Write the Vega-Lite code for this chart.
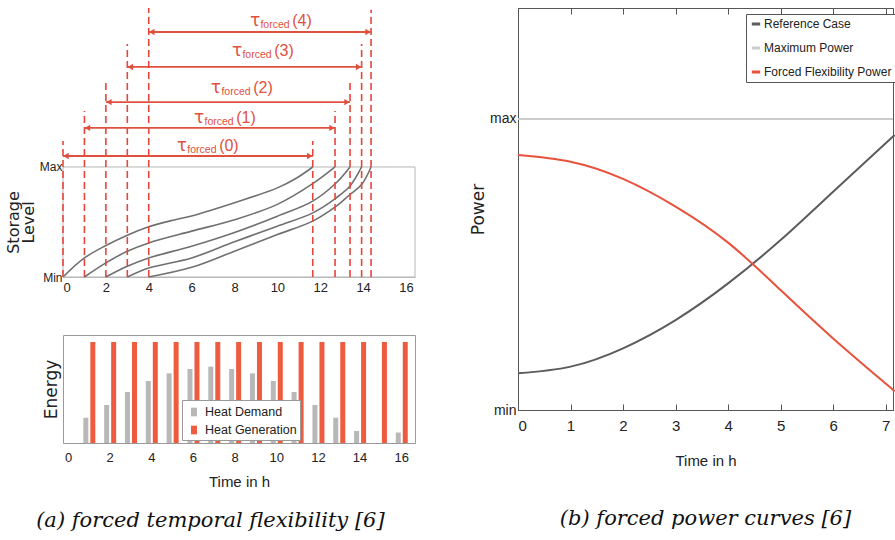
{
  "$schema": "https://vega.github.io/schema/vega-lite/v6.json",
  "background": "white",
  "padding": {"left": 5, "top": 7, "right": 0, "bottom": 0},
  "config": {
    "font": "Liberation Sans, sans-serif",
    "view": {"stroke": null},
    "axis": {
      "grid": false,
      "labelFont": "Liberation Sans, sans-serif",
      "titleFont": "Liberation Sans, sans-serif",
      "labelColor": "#222",
      "titleColor": "#222",
      "titleFontWeight": "normal",
      "domainColor": "#aaa",
      "tickColor": "#555"
    },
    "legend": {
      "labelFont": "Liberation Sans, sans-serif",
      "labelColor": "#222",
      "labelLimit": 400
    }
  },
  "datasets": {
    "frame": [{"name": "frame"}],
    "curves": [
      {"curve": "0", "t": 0, "level": 0}, {"curve": "0", "t": 1, "level": 0.173}, {"curve": "0", "t": 2, "level": 0.286}, {"curve": "0", "t": 3, "level": 0.38}, {"curve": "0", "t": 4, "level": 0.456}, {"curve": "0", "t": 5, "level": 0.51}, {"curve": "0", "t": 6, "level": 0.555}, {"curve": "0", "t": 8, "level": 0.675}, {"curve": "0", "t": 10, "level": 0.81}, {"curve": "0", "t": 10.9, "level": 0.9}, {"curve": "0", "t": 11.65, "level": 1},
      {"curve": "1", "t": 1, "level": 0}, {"curve": "1", "t": 2, "level": 0.128}, {"curve": "1", "t": 3, "level": 0.234}, {"curve": "1", "t": 4, "level": 0.31}, {"curve": "1", "t": 6, "level": 0.417}, {"curve": "1", "t": 8, "level": 0.52}, {"curve": "1", "t": 10, "level": 0.66}, {"curve": "1", "t": 11.65, "level": 0.848}, {"curve": "1", "t": 12.69, "level": 1},
      {"curve": "2", "t": 2, "level": 0}, {"curve": "2", "t": 3, "level": 0.097}, {"curve": "2", "t": 4, "level": 0.173}, {"curve": "2", "t": 6, "level": 0.28}, {"curve": "2", "t": 8, "level": 0.405}, {"curve": "2", "t": 10, "level": 0.553}, {"curve": "2", "t": 11.65, "level": 0.69}, {"curve": "2", "t": 12.75, "level": 0.857}, {"curve": "2", "t": 13.39, "level": 1},
      {"curve": "3", "t": 3, "level": 0}, {"curve": "3", "t": 4, "level": 0.082}, {"curve": "3", "t": 6, "level": 0.173}, {"curve": "3", "t": 8, "level": 0.32}, {"curve": "3", "t": 10, "level": 0.462}, {"curve": "3", "t": 11.65, "level": 0.583}, {"curve": "3", "t": 12.75, "level": 0.72}, {"curve": "3", "t": 13.39, "level": 0.827}, {"curve": "3", "t": 13.93, "level": 1},
      {"curve": "4", "t": 4, "level": 0}, {"curve": "4", "t": 6, "level": 0.088}, {"curve": "4", "t": 8, "level": 0.235}, {"curve": "4", "t": 10, "level": 0.386}, {"curve": "4", "t": 11.65, "level": 0.508}, {"curve": "4", "t": 12.75, "level": 0.644}, {"curve": "4", "t": 13.39, "level": 0.75}, {"curve": "4", "t": 13.93, "level": 0.84}, {"curve": "4", "t": 14.37, "level": 1}
    ],
    "dashes": [
      {"t": 0, "bottom": 0, "top": 1.236}, {"t": 1, "bottom": 0, "top": 1.509}, {"t": 2, "bottom": 0, "top": 1.8}, {"t": 3, "bottom": 0, "top": 2.118}, {"t": 4, "bottom": 0, "top": 2.445},
      {"t": 11.65, "bottom": 0, "top": 1.236}, {"t": 12.69, "bottom": 0, "top": 1.509}, {"t": 13.39, "bottom": 0, "top": 1.8}, {"t": 13.93, "bottom": 0, "top": 2.118}, {"t": 14.37, "bottom": 0, "top": 2.43}
    ],
    "spans": [
      {"k": "(0)", "start": 0, "end": 11.65, "arrow": 1.1, "labelT": 6.48, "labelY": 1.19},
      {"k": "(1)", "start": 1, "end": 12.69, "arrow": 1.355, "labelT": 7.28, "labelY": 1.445},
      {"k": "(2)", "start": 2, "end": 13.39, "arrow": 1.59, "labelT": 8.07, "labelY": 1.718},
      {"k": "(3)", "start": 3, "end": 13.93, "arrow": 1.909, "labelT": 9.05, "labelY": 2.055},
      {"k": "(4)", "start": 4, "end": 14.37, "arrow": 2.227, "labelT": 9.89, "labelY": 2.327}
    ],
    "energy": [
      {"t": 1, "series": "Heat Demand", "energy": 0.234}, {"t": 2, "series": "Heat Demand", "energy": 0.352}, {"t": 3, "series": "Heat Demand", "energy": 0.472}, {"t": 4, "series": "Heat Demand", "energy": 0.574}, {"t": 5, "series": "Heat Demand", "energy": 0.645}, {"t": 6, "series": "Heat Demand", "energy": 0.685}, {"t": 7, "series": "Heat Demand", "energy": 0.707}, {"t": 8, "series": "Heat Demand", "energy": 0.685}, {"t": 9, "series": "Heat Demand", "energy": 0.645}, {"t": 10, "series": "Heat Demand", "energy": 0.574}, {"t": 11, "series": "Heat Demand", "energy": 0.472}, {"t": 12, "series": "Heat Demand", "energy": 0.352}, {"t": 13, "series": "Heat Demand", "energy": 0.234}, {"t": 14, "series": "Heat Demand", "energy": 0.111}, {"t": 16, "series": "Heat Demand", "energy": 0.097},
      {"t": 1, "series": "Heat Generation", "energy": 0.935}, {"t": 2, "series": "Heat Generation", "energy": 0.935}, {"t": 3, "series": "Heat Generation", "energy": 0.935}, {"t": 4, "series": "Heat Generation", "energy": 0.935}, {"t": 5, "series": "Heat Generation", "energy": 0.935}, {"t": 6, "series": "Heat Generation", "energy": 0.935}, {"t": 7, "series": "Heat Generation", "energy": 0.935}, {"t": 8, "series": "Heat Generation", "energy": 0.935}, {"t": 9, "series": "Heat Generation", "energy": 0.935}, {"t": 10, "series": "Heat Generation", "energy": 0.935}, {"t": 11, "series": "Heat Generation", "energy": 0.935}, {"t": 12, "series": "Heat Generation", "energy": 0.935}, {"t": 13, "series": "Heat Generation", "energy": 0.935}, {"t": 14, "series": "Heat Generation", "energy": 0.935}, {"t": 15, "series": "Heat Generation", "energy": 0.935}, {"t": 16, "series": "Heat Generation", "energy": 0.935}
    ],
    "power": [
      {"series": "Reference Case", "t": 0, "power": 0.126}, {"series": "Reference Case", "t": 1, "power": 0.149}, {"series": "Reference Case", "t": 2, "power": 0.212}, {"series": "Reference Case", "t": 3, "power": 0.309}, {"series": "Reference Case", "t": 4, "power": 0.435}, {"series": "Reference Case", "t": 5, "power": 0.584}, {"series": "Reference Case", "t": 6, "power": 0.75}, {"series": "Reference Case", "t": 7, "power": 0.916}, {"series": "Reference Case", "t": 7.14, "power": 0.939},
      {"series": "Maximum Power", "t": 0, "power": 1}, {"series": "Maximum Power", "t": 7.14, "power": 1},
      {"series": "Forced Flexibility Power", "t": 0, "power": 0.876}, {"series": "Forced Flexibility Power", "t": 1, "power": 0.853}, {"series": "Forced Flexibility Power", "t": 2, "power": 0.794}, {"series": "Forced Flexibility Power", "t": 3, "power": 0.699}, {"series": "Forced Flexibility Power", "t": 4, "power": 0.575}, {"series": "Forced Flexibility Power", "t": 5, "power": 0.412}, {"series": "Forced Flexibility Power", "t": 6, "power": 0.246}, {"series": "Forced Flexibility Power", "t": 7, "power": 0.091}, {"series": "Forced Flexibility Power", "t": 7.14, "power": 0.069}
    ]
  },
  "spacing": 53,
  "resolve": {"scale": {"color": "independent"}, "legend": {"color": "independent"}},
  "hconcat": [
    {
      "spacing": 40,
      "title": {"text": "(a) forced temporal flexibility [6]", "orient": "bottom", "anchor": "middle", "offset": 20, "font": "DejaVu Serif", "fontStyle": "italic", "fontWeight": "normal", "fontSize": 21, "color": "#111"},
      "vconcat": [
        {
          "width": 352,
          "height": 269,
          "layer": [
            {
              "data": {"name": "frame"},
              "mark": {"type": "rect", "fillOpacity": 0, "stroke": "#b5b5b5", "strokeWidth": 1},
              "encoding": {
                "x": {"datum": 0, "type": "quantitative", "scale": {"domain": [0, 16.42], "nice": false}, "axis": {"values": [0, 2, 4, 6, 8, 10, 12, 14, 16], "title": null, "ticks": false, "labelFontSize": 13, "labelPadding": 4, "domainColor": "#bbb"}},
                "x2": {"datum": 16.42},
                "y": {"datum": 0, "type": "quantitative", "scale": {"domain": [0, 2.445], "nice": false}, "axis": {"values": [0, 1], "labelExpr": "datum.value == 1 ? 'Max' : 'Min'", "ticks": false, "domain": false, "labelFontSize": 12, "labelPadding": 1, "title": ["Storage", "Level"], "titleFontSize": 16, "titleLineHeight": 15, "titlePadding": 3, "titleY": 214, "titleFont": "DejaVu Sans, sans-serif"}},
                "y2": {"datum": 1}
              }
            },
            {
              "data": {"name": "curves"},
              "mark": {"type": "line", "color": "#707070", "strokeWidth": 1.6, "interpolate": "catmull-rom"},
              "encoding": {
                "x": {"field": "t", "type": "quantitative"},
                "y": {"field": "level", "type": "quantitative"},
                "detail": {"field": "curve"}
              }
            },
            {
              "data": {"name": "dashes"},
              "mark": {"type": "rule", "color": "#e5463a", "strokeWidth": 1.6, "strokeDash": [7, 4]},
              "encoding": {
                "x": {"field": "t", "type": "quantitative"},
                "y": {"field": "bottom", "type": "quantitative"},
                "y2": {"field": "top"}
              }
            },
            {
              "data": {"name": "spans"},
              "mark": {"type": "rule", "color": "#e0503e", "strokeWidth": 1.8},
              "encoding": {
                "x": {"field": "start", "type": "quantitative"},
                "x2": {"field": "end"},
                "y": {"field": "arrow", "type": "quantitative"}
              }
            },
            {
              "data": {"name": "spans"},
              "mark": {"type": "point", "shape": "triangle-left", "filled": true, "color": "#e0503e", "size": 40, "opacity": 1, "xOffset": 3},
              "encoding": {
                "x": {"field": "start", "type": "quantitative"},
                "y": {"field": "arrow", "type": "quantitative"}
              }
            },
            {
              "data": {"name": "spans"},
              "mark": {"type": "point", "shape": "triangle-right", "filled": true, "color": "#e0503e", "size": 40, "opacity": 1, "xOffset": -3},
              "encoding": {
                "x": {"field": "end", "type": "quantitative"},
                "y": {"field": "arrow", "type": "quantitative"}
              }
            },
            {
              "data": {"name": "spans"},
              "mark": {"type": "text", "text": "τ", "color": "#e0503e", "fontSize": 17, "dx": -20, "font": "DejaVu Sans, sans-serif"},
              "encoding": {
                "x": {"field": "labelT", "type": "quantitative"},
                "y": {"field": "labelY", "type": "quantitative"}
              }
            },
            {
              "data": {"name": "spans"},
              "mark": {"type": "text", "text": "forced", "color": "#e0503e", "fontSize": 10.5, "dy": 4},
              "encoding": {
                "x": {"field": "labelT", "type": "quantitative"},
                "y": {"field": "labelY", "type": "quantitative"}
              }
            },
            {
              "data": {"name": "spans"},
              "mark": {"type": "text", "color": "#e0503e", "fontSize": 16, "dx": 27},
              "encoding": {
                "x": {"field": "labelT", "type": "quantitative"},
                "y": {"field": "labelY", "type": "quantitative"},
                "text": {"field": "k", "type": "nominal"}
              }
            }
          ]
        },
        {
          "width": 352,
          "height": 108,
          "view": {"stroke": "#9a9a9a"},
          "data": {"name": "energy"},
          "encoding": {
            "x": {"field": "t", "type": "quantitative", "scale": {"domain": [0, 16.42], "nice": false}, "axis": {"values": [0, 2, 4, 6, 8, 10, 12, 14, 16], "title": "Time in h", "ticks": false, "domain": false, "labelFontSize": 13, "labelPadding": 8, "titleFontSize": 15, "titlePadding": 10}},
            "y": {"field": "energy", "type": "quantitative", "scale": {"domain": [0, 1], "nice": false}, "axis": {"title": "Energy", "labels": false, "ticks": false, "domain": false, "titleFontSize": 17, "titlePadding": 3, "titleFont": "DejaVu Sans, sans-serif"}},
            "color": {
              "field": "series", "type": "nominal",
              "scale": {"domain": ["Heat Demand", "Heat Generation"], "range": ["#b8b8b8", "#ef5b3e"]},
              "legend": {"title": null, "orient": "none", "legendX": 119, "legendY": 392, "fillColor": "white", "strokeColor": "#999", "padding": 3, "symbolType": "M-0.35,-0.5H0.35V0.5H-0.35Z", "symbolSize": 300, "symbolStrokeWidth": 0, "labelFontSize": 12.5, "rowPadding": 2, "labelOffset": 2}
            }
          },
          "layer": [
            {"transform": [{"filter": "datum.series == 'Heat Demand'"}], "mark": {"type": "bar", "width": 5, "xOffset": -3}},
            {"transform": [{"filter": "datum.series == 'Heat Generation'"}], "mark": {"type": "bar", "width": 5, "xOffset": 4}}
          ]
        }
      ]
    },
    {
      "width": 375,
      "height": 402,
      "view": {"stroke": "#555"},
      "title": {"text": "(b) forced power curves [6]", "orient": "bottom", "anchor": "middle", "offset": 40, "font": "DejaVu Serif", "fontStyle": "italic", "fontWeight": "normal", "fontSize": 21, "color": "#111"},
      "data": {"name": "power"},
      "layer": [
        {
          "mark": {"type": "line", "strokeWidth": 2, "interpolate": "natural"},
          "encoding": {
            "x": {"field": "t", "type": "quantitative", "scale": {"domain": [0, 7.14], "nice": false}, "axis": {"values": [0, 1, 2, 3, 4, 5, 6, 7], "title": "Time in h", "tickSize": -6, "tickColor": "#555", "domainColor": "#555", "labelFontSize": 15, "labelPadding": 14, "titleFontSize": 15, "titlePadding": 20}},
            "y": {"field": "power", "type": "quantitative", "scale": {"domain": [0, 1.381], "nice": false}, "axis": {"values": [0, 1], "labelExpr": "datum.value == 1 ? 'max' : 'min'", "ticks": false, "domainColor": "#555", "labelFontSize": 14, "labelPadding": 2, "title": "Power", "titleFontSize": 17, "titlePadding": 2, "titleFont": "DejaVu Sans, sans-serif"}},
            "color": {
              "field": "series", "type": "nominal",
              "scale": {"domain": ["Reference Case", "Maximum Power", "Forced Flexibility Power"], "range": ["#5c5c5c", "#cccccc", "#e8523c"]},
              "legend": {"title": null, "orient": "none", "legendX": 228, "legendY": 6, "fillColor": "white", "strokeColor": "#555", "padding": 4, "symbolType": "stroke", "symbolStrokeWidth": 3, "symbolSize": 70, "labelFontSize": 12, "rowPadding": 12, "labelOffset": 2}
            }
          }
        },
        {
          "mark": {"type": "point", "opacity": 0},
          "encoding": {
            "x": {"field": "t", "type": "quantitative", "axis": {"orient": "top", "values": [0, 1, 2, 3, 4, 5, 6, 7], "labels": false, "title": null, "tickSize": -6, "tickColor": "#555", "domainColor": "#555"}},
            "y": {"field": "power", "type": "quantitative"}
          }
        }
      ],
      "resolve": {"axis": {"x": "independent"}}
    }
  ]
}
